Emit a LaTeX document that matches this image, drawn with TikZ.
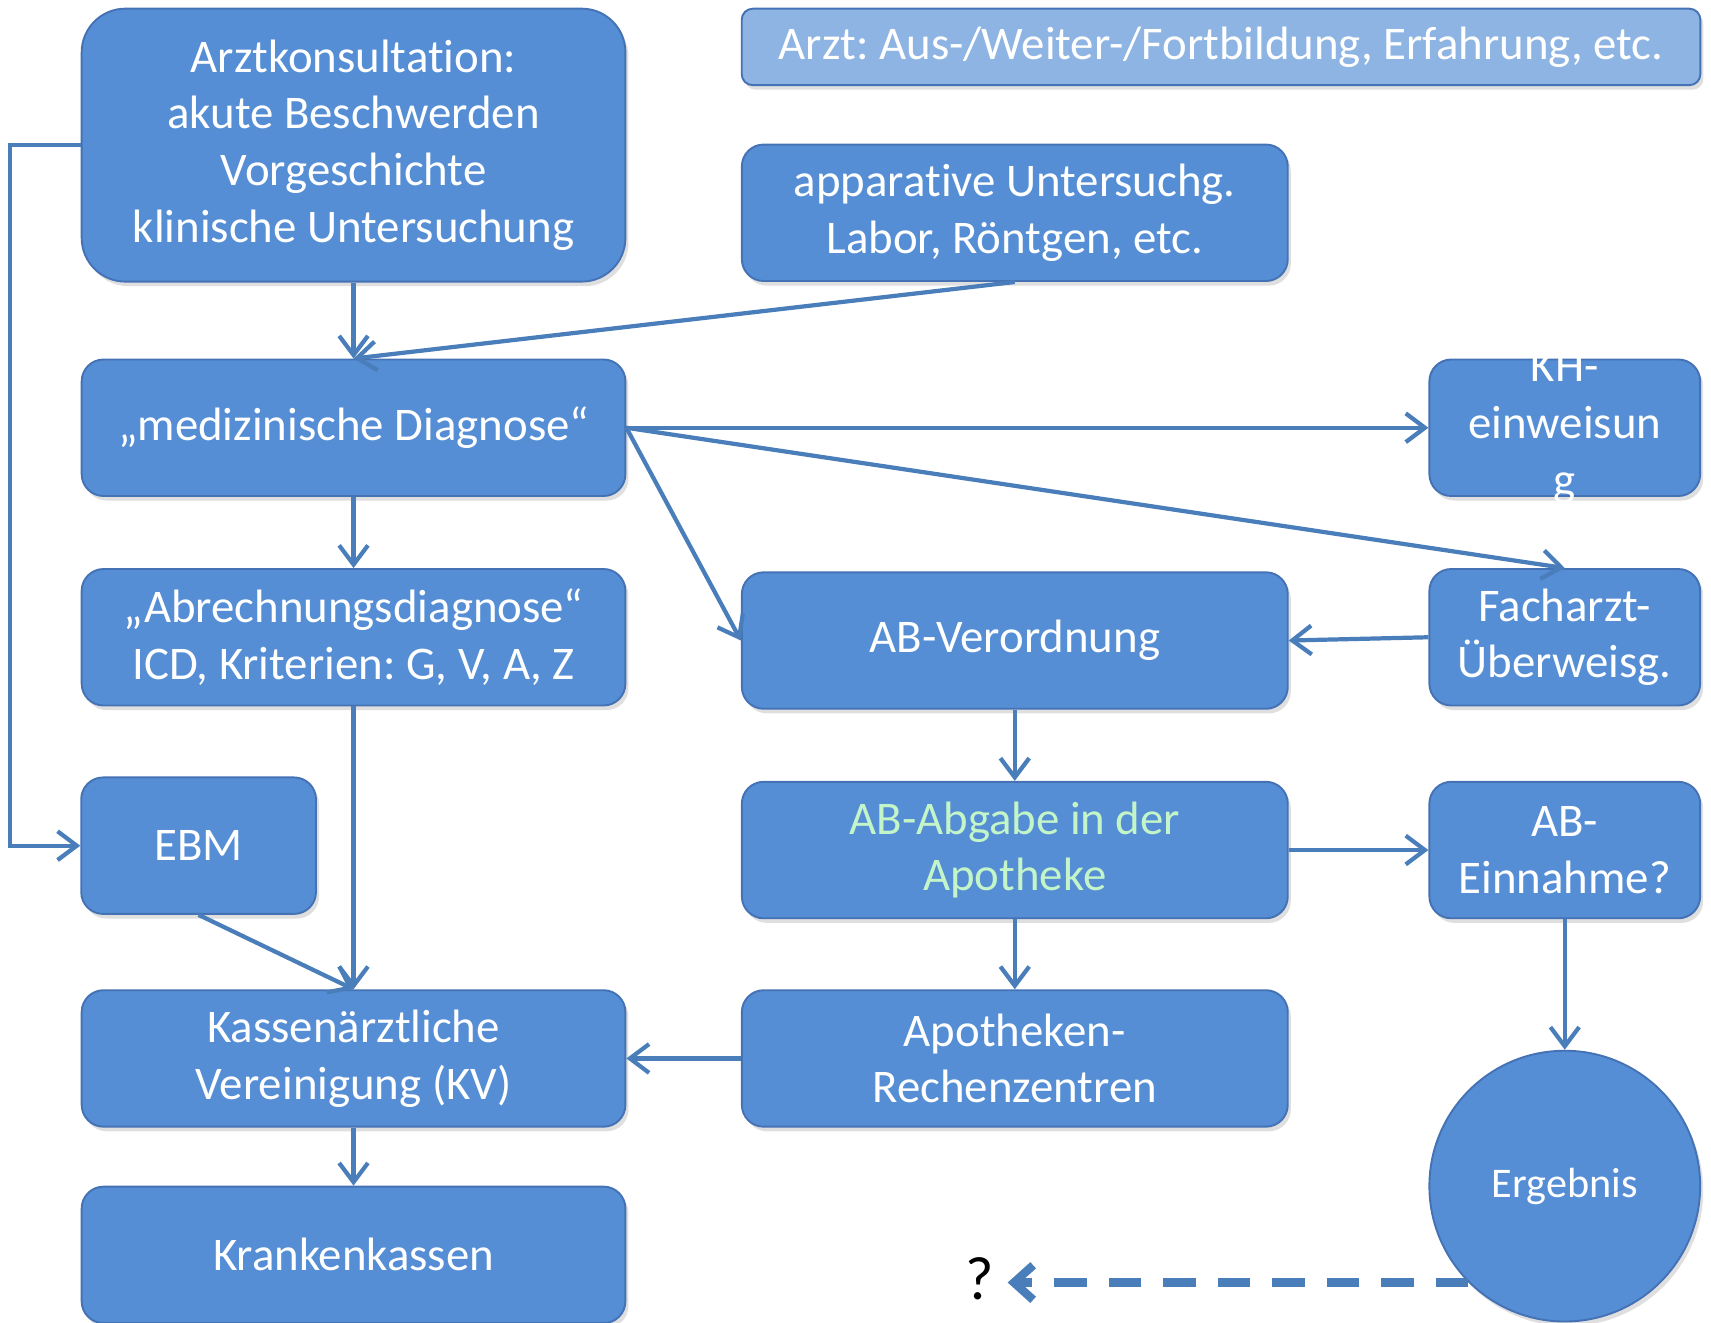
\documentclass[tikz,border=0pt]{standalone}
\usepackage{fontspec}
\setmainfont{Carlito}[Ligatures=NoCommon]
\usetikzlibrary{positioning, calc, arrows.meta, shadows}
\frenchspacing

\definecolor{boxblue}{RGB}{85,142,213}
\definecolor{boxedge}{RGB}{68,114,180}
\definecolor{lineblue}{RGB}{74,126,187}
\definecolor{infoblue}{RGB}{142,180,227}
\definecolor{palegreen}{RGB}{195,245,200}

\begin{document}
\begin{tikzpicture}[
  x=0.01cm, y=-0.01cm,
  >={Straight Barb[length=5pt,width=7.5pt]},
  box/.style    = {draw=boxedge, line width=0.5pt, fill=boxblue, text=white,
                   rounded corners=0.2cm, align=center, inner sep=0pt,
                   minimum height=1.25cm, font=\fontsize{12.2}{14.8}\selectfont,
                   drop shadow={shadow xshift=0.8pt, shadow yshift=-1.2pt, opacity=0.25}},
  wide/.style   = {box, minimum width=4.98cm},
  mid/.style    = {box, minimum width=5cm},
  narrow/.style = {box, minimum width=2.48cm},
  label/.style  = {text=white, align=center, inner sep=0pt, font=\fontsize{12.2}{14.8}\selectfont},
  conn/.style   = {->, draw=lineblue, line width=1.1pt},
]
  \useasboundingbox (0,0) rectangle (1568,1212);

  \node[box, minimum width=4.98cm, minimum height=2.5cm, rounded corners=0.4cm]
        (arzt)   at (324,133)  {Arztkonsultation:\\akute Beschwerden\\Vorgeschichte\\klinische Untersuchung};
  \node[box, fill=infoblue, minimum width=8.78cm, minimum height=0.7cm, rounded corners=0.1cm]
        (info)   at (1119,43)  {Arzt: Aus-/Weiter-/Fortbildung, Erfahrung, etc.};
  \node[mid]    (appar)  at (930,195)  {apparative Untersuchg.\\Labor, Röntgen, etc.};

  \node[wide]   (diag)   at (324,392)  {„medizinische Diagnose“};
  \node[narrow] (kh)     at (1434,392) {};
  \node[label]  (khtext) at (kh)       {KH-\\einweisun\\g};

  \node[wide]   (abr)    at (324,584)  {„Abrechnungsdiagnose“\\ICD, Kriterien: G, V, A, Z};
  \node[mid]    (verord) at (930,587)  {AB-Verordnung};
  \node[narrow] (fach)   at (1434,584) {Facharzt-\\Überweisg.};

  \node[box, minimum width=2.15cm] (ebm) at (182,775) {EBM};
  \node[mid, text=palegreen] (abgabe) at (930,779) {AB-Abgabe in der\\Apotheke};
  \node[narrow] (einn)   at (1434,779) {AB-\\Einnahme?};

  \node[wide]   (kv)     at (324,970)  {Kassenärztliche\\Vereinigung (KV)};
  \node[mid]    (apoth)  at (930,970)  {Apotheken-\\Rechenzentren};
  \node[wide]   (kk)     at (324,1150) {Krankenkassen};

  \node[box, circle, rounded corners=0pt, minimum size=2.48cm, font=\fontsize{11}{13}\selectfont]
        (erg)    at (1434,1087) {Ergebnis};
  \node[font=\fontsize{16}{19}\selectfont] (q) at (898,1172) {?};

  \draw[conn] (arzt.south)  -- (diag.north);
  \draw[conn] (appar.south) -- (diag.north);
  \draw[conn] (arzt.west)   -- ++(-65,0) |- (ebm.west);
  \draw[conn] (diag.east)   -- (kh.west);
  \draw[conn] (diag.east)   -- (fach.north);
  \draw[conn] (diag.east)   -- (verord.west);
  \draw[conn] (diag.south)  -- (abr.north);
  \draw[conn] (fach.west)   -- (verord.east);
  \draw[conn] (verord.south) -- (abgabe.north);
  \draw[conn] (abgabe.east) -- (einn.west);
  \draw[conn] (abgabe.south) -- (apoth.north);
  \draw[conn] (einn.south)  -- (erg.north);
  \draw[conn] (apoth.west)  -- (kv.east);
  \draw[conn] (abr.south)   -- (kv.north);
  \draw[conn] (ebm.south)   -- (kv.north);
  \draw[conn] (kv.south)    -- (kk.north);

  \draw[conn, line width=2.2pt, dash pattern=on 8.5pt off 5.7pt,
        -{Straight Barb[length=5pt,width=9pt]}]
        (erg.225) -- (q.east |- erg.225);
\end{tikzpicture}
\end{document}
